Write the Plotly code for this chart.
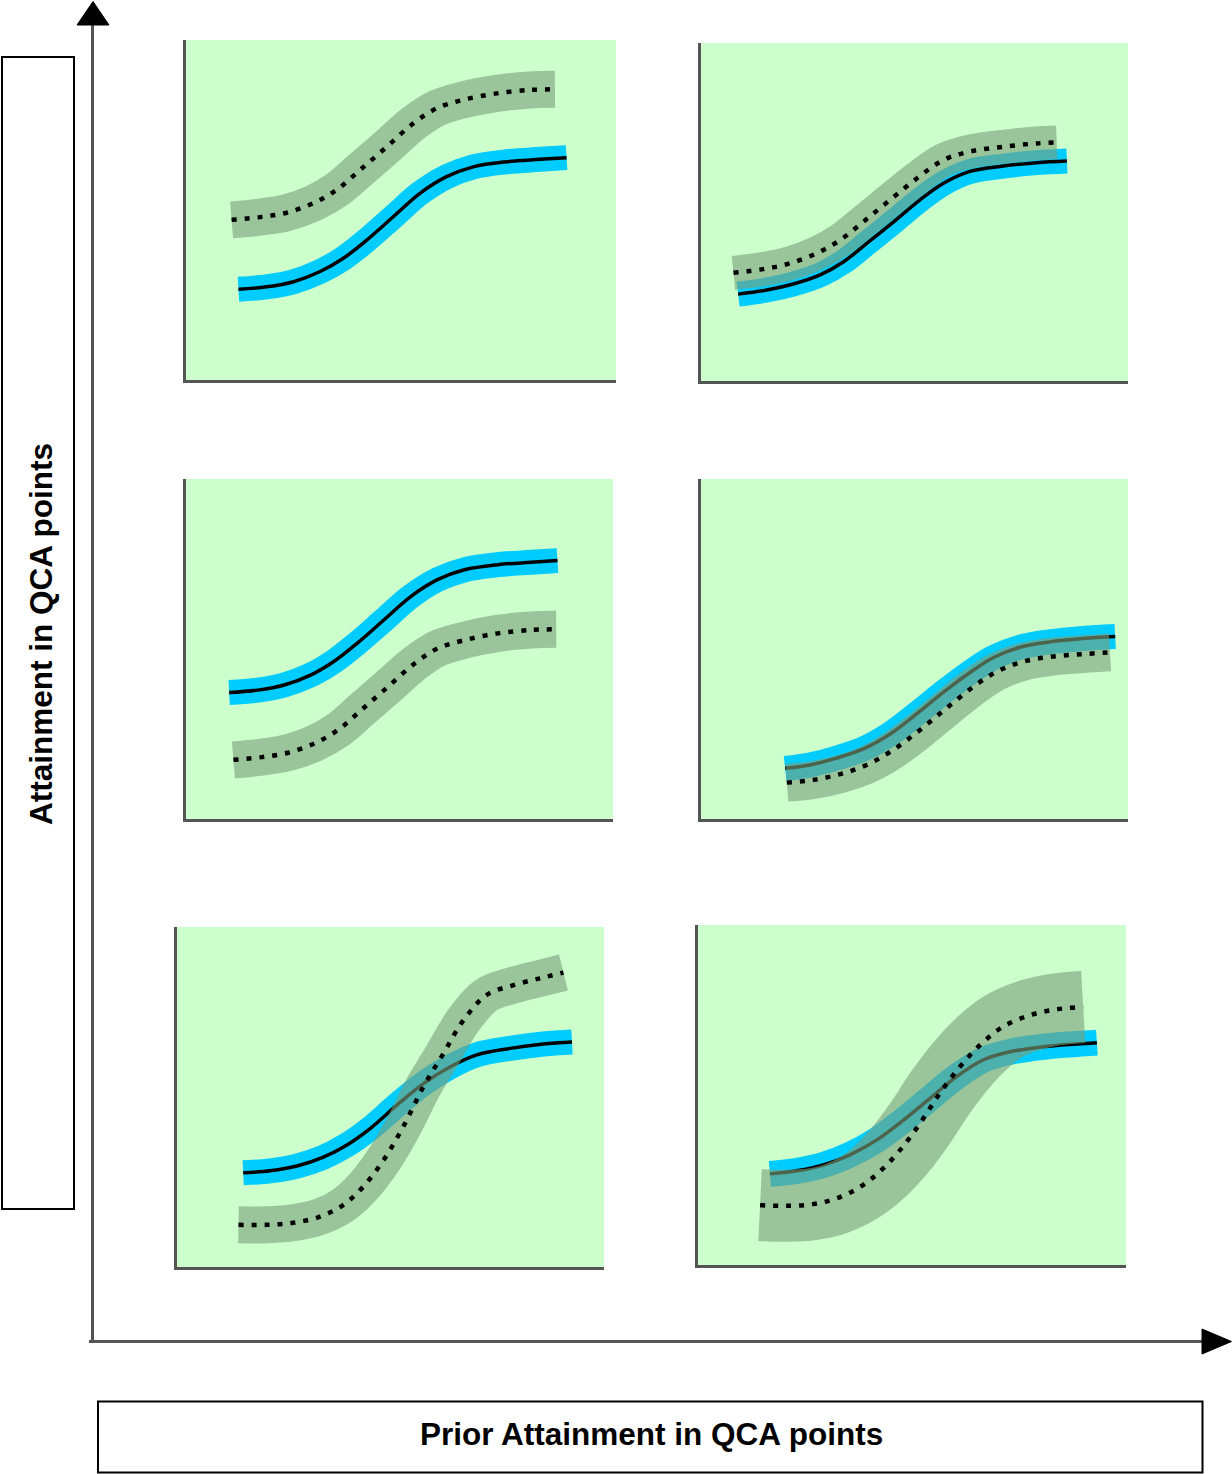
import plotly.graph_objects as go

# ---------------- data (each panel uses its own 0-100 scale) ----------------
# Panel 1 (top-left)
p1_solid_x = [12.2, 18.8, 25.0, 31.2, 36.6, 42.1, 48.2, 54.4, 60.6, 66.8, 74.6, 82.3, 88.5]
p1_solid_y = [26.7, 27.4, 28.9, 31.9, 35.8, 41.2, 48.0, 54.9, 59.8, 62.7, 64.2, 64.9, 65.4]
p1_dot_x = [10.6, 17.2, 23.4, 29.6, 35.0, 40.5, 46.7, 52.9, 58.3, 64.5, 72.3, 80.0, 85.8]
p1_dot_y = [47.1, 47.9, 49.2, 52.0, 55.9, 61.8, 68.6, 75.5, 79.9, 82.4, 84.3, 85.3, 85.5]

# Panel 2 (top-right)
p2_solid_x = [8.7, 15.4, 21.6, 27.9, 33.4, 38.9, 45.1, 51.3, 56.8, 63.0, 70.8, 78.6, 85.7]
p2_solid_y = [25.7, 26.9, 28.7, 31.4, 35.3, 40.8, 47.1, 53.6, 58.5, 62.0, 63.6, 64.6, 65.1]
p2_dot_x = [7.6, 14.6, 20.8, 27.1, 32.6, 38.1, 44.3, 50.6, 56.8, 63.0, 70.8, 78.6, 83.3]
p2_dot_y = [32.0, 33.1, 34.8, 37.8, 41.7, 47.2, 53.6, 60.0, 65.4, 67.9, 69.3, 70.3, 70.6]

# Panel 3 (middle-left)
p3_solid_x = [10.1, 16.8, 23.0, 29.3, 34.7, 40.2, 46.4, 52.7, 58.9, 65.2, 73.0, 80.8, 87.0]
p3_solid_y = [37.2, 37.9, 39.4, 42.4, 46.4, 51.8, 58.6, 65.5, 70.4, 73.3, 74.8, 75.5, 76.0]
p3_dot_x = [11.1, 17.7, 23.9, 30.2, 35.6, 41.1, 47.3, 53.6, 59.0, 65.2, 73.0, 80.8, 86.7]
p3_dot_y = [17.4, 18.2, 19.5, 22.3, 26.2, 32.1, 38.9, 45.8, 50.2, 52.6, 54.6, 55.6, 55.8]

# Panel 4 (middle-right)
p4_solid_x = [19.7, 25.5, 31.7, 38.0, 44.3, 50.5, 56.8, 63.0, 68.5, 74.7, 81.7, 89.5, 97.0]
p4_solid_y = [14.9, 15.9, 17.9, 20.6, 25.0, 30.9, 37.3, 43.1, 47.5, 50.5, 52.1, 53.1, 53.7]
p4_dot_x = [20.1, 26.3, 32.6, 38.8, 45.0, 51.3, 57.5, 63.8, 69.2, 75.5, 82.5, 89.5, 95.8]
p4_dot_y = [10.7, 11.5, 13.2, 15.9, 20.3, 26.2, 32.6, 38.9, 43.3, 46.3, 47.8, 48.5, 49.0]

# Panel 5 (bottom-left)
p5_solid_x = [15.5, 21.8, 28.1, 34.3, 39.8, 45.3, 51.5, 57.8, 64.0, 70.2, 78.0, 85.8, 92.5]
p5_solid_y = [27.7, 28.3, 29.7, 32.3, 35.9, 40.8, 47.6, 54.0, 58.9, 62.4, 64.3, 65.6, 66.2]
p5_dot_x = [14.4, 21.0, 27.2, 33.5, 38.9, 43.6, 48.4, 53.0, 57.7, 62.4, 67.1, 72.5, 78.8, 85.0, 90.5]
p5_dot_y = [12.4, 12.4, 13.0, 14.8, 18.2, 23.6, 31.5, 41.3, 53.0, 62.8, 72.6, 80.0, 82.9, 84.9, 86.6]

# Panel 6 (bottom-right)
p6_solid_x = [16.8, 23.1, 29.3, 35.5, 41.8, 48.0, 54.2, 60.4, 66.6, 72.9, 80.7, 88.5, 93.2]
p6_solid_y = [26.8, 27.7, 29.4, 32.4, 36.8, 42.6, 49.0, 55.4, 60.3, 62.7, 64.2, 65.0, 65.4]
p6_dot_x = [14.5, 20.7, 26.9, 32.4, 37.9, 42.5, 47.2, 51.9, 56.5, 61.2, 65.9, 71.3, 77.6, 83.8, 90.0]
p6_dot_y = [17.6, 17.4, 17.9, 19.6, 23.0, 27.5, 33.8, 41.7, 50.5, 58.3, 64.7, 70.1, 73.5, 75.2, 75.9]

x_title = "Prior Attainment in QCA points"
y_title = "Attainment in QCA points"

# ---------------- layout / style ----------------
W, H = 1232, 1474

def X(px):
    return px / W

def Y(py):
    return 1 - py / H

# panel boxes in pixels: left, right, top, bottom
panel_boxes = [
    (186, 616, 40, 380),
    (701, 1128, 43, 381),
    (186, 613, 479, 819),
    (701, 1128, 479, 819),
    (177, 604, 927, 1267),
    (698, 1126, 925, 1265),
]
gray_band_width = [37, 34, 37, 38, 37, 72]
blue_band_width = [25, 25, 25, 25, 25, 26]

panels = [
    (p1_solid_x, p1_solid_y, p1_dot_x, p1_dot_y),
    (p2_solid_x, p2_solid_y, p2_dot_x, p2_dot_y),
    (p3_solid_x, p3_solid_y, p3_dot_x, p3_dot_y),
    (p4_solid_x, p4_solid_y, p4_dot_x, p4_dot_y),
    (p5_solid_x, p5_solid_y, p5_dot_x, p5_dot_y),
    (p6_solid_x, p6_solid_y, p6_dot_x, p6_dot_y),
]

BLUE = "#00ccff"
GRAY_BAND = "rgba(122,159,122,0.62)"

fig = go.Figure()
layout_axes = {}
for i, ((sx, sy, dx, dy), box) in enumerate(zip(panels, panel_boxes)):
    n = i + 1
    xa = "x" if n == 1 else f"x{n}"
    ya = "y" if n == 1 else f"y{n}"
    common = dict(mode="lines", xaxis=xa, yaxis=ya, hoverinfo="skip", showlegend=False)
    fig.add_trace(go.Scatter(x=sx, y=sy, line=dict(color=BLUE, width=blue_band_width[i], shape="spline"), **common))
    fig.add_trace(go.Scatter(x=sx, y=sy, line=dict(color="#000000", width=3.5, shape="spline"), **common))
    fig.add_trace(go.Scatter(x=dx, y=dy, line=dict(color=GRAY_BAND, width=gray_band_width[i], shape="spline"), **common))
    fig.add_trace(go.Scatter(x=dx, y=dy, line=dict(color="#000000", width=4.5, dash="5px,8px", shape="spline"), **common))

    left, right, top, bottom = box
    axstyle = dict(showline=True, linecolor="#555555", linewidth=3, showgrid=False,
                   zeroline=False, showticklabels=False, ticks="", fixedrange=True)
    layout_axes["xaxis" if n == 1 else f"xaxis{n}"] = dict(
        domain=[X(left), X(right)], range=[0, 100], anchor=ya, **axstyle)
    layout_axes["yaxis" if n == 1 else f"yaxis{n}"] = dict(
        domain=[Y(bottom), Y(top)], range=[0, 100], anchor=xa, **axstyle)

shapes = [
    # big y axis + arrow
    dict(type="line", xref="paper", yref="paper", x0=X(92.5), x1=X(92.5), y0=Y(1342), y1=Y(22),
         line=dict(color="#555555", width=3)),
    dict(type="path", xref="paper", yref="paper",
         path=f"M {X(93)},{Y(1.5)} L {X(77)},{Y(25)} L {X(109)},{Y(25)} Z",
         fillcolor="#000000", line=dict(color="#000000", width=1)),
    # big x axis + arrow
    dict(type="line", xref="paper", yref="paper", x0=X(89), x1=X(1205), y0=Y(1341.5), y1=Y(1341.5),
         line=dict(color="#555555", width=3)),
    dict(type="path", xref="paper", yref="paper",
         path=f"M {X(1231.5)},{Y(1341.5)} L {X(1202)},{Y(1329)} L {X(1202)},{Y(1354)} Z",
         fillcolor="#000000", line=dict(color="#000000", width=1)),
    # title boxes
    dict(type="rect", xref="paper", yref="paper", x0=X(2), x1=X(74), y0=Y(1209), y1=Y(57),
         line=dict(color="#000000", width=2)),
    dict(type="rect", xref="paper", yref="paper", x0=X(98), x1=X(1202.5), y0=Y(1472.5), y1=Y(1401.5),
         line=dict(color="#000000", width=2)),
]

annotations = [
    dict(text=f"<b>{x_title}</b>", xref="paper", yref="paper", x=X(651), y=Y(1434),
         xanchor="center", yanchor="middle", showarrow=False,
         font=dict(family="Liberation Sans, Arial, sans-serif", size=31.5, color="#000000")),
    dict(text=f"<b>{y_title}</b>", xref="paper", yref="paper", x=X(41), y=Y(634),
         xanchor="center", yanchor="middle", showarrow=False, textangle=-90,
         font=dict(family="Liberation Sans, Arial, sans-serif", size=31.5, color="#000000")),
]

fig.update_layout(
    width=W, height=H,
    margin=dict(l=0, r=0, t=0, b=0),
    paper_bgcolor="#ffffff",
    plot_bgcolor="#ccffcc",
    showlegend=False,
    shapes=shapes,
    annotations=annotations,
    **layout_axes,
)

fig.write_html("out.html", config={"displayModeBar": False},
               post_script="document.body.style.margin='0';document.body.style.padding='0';")
